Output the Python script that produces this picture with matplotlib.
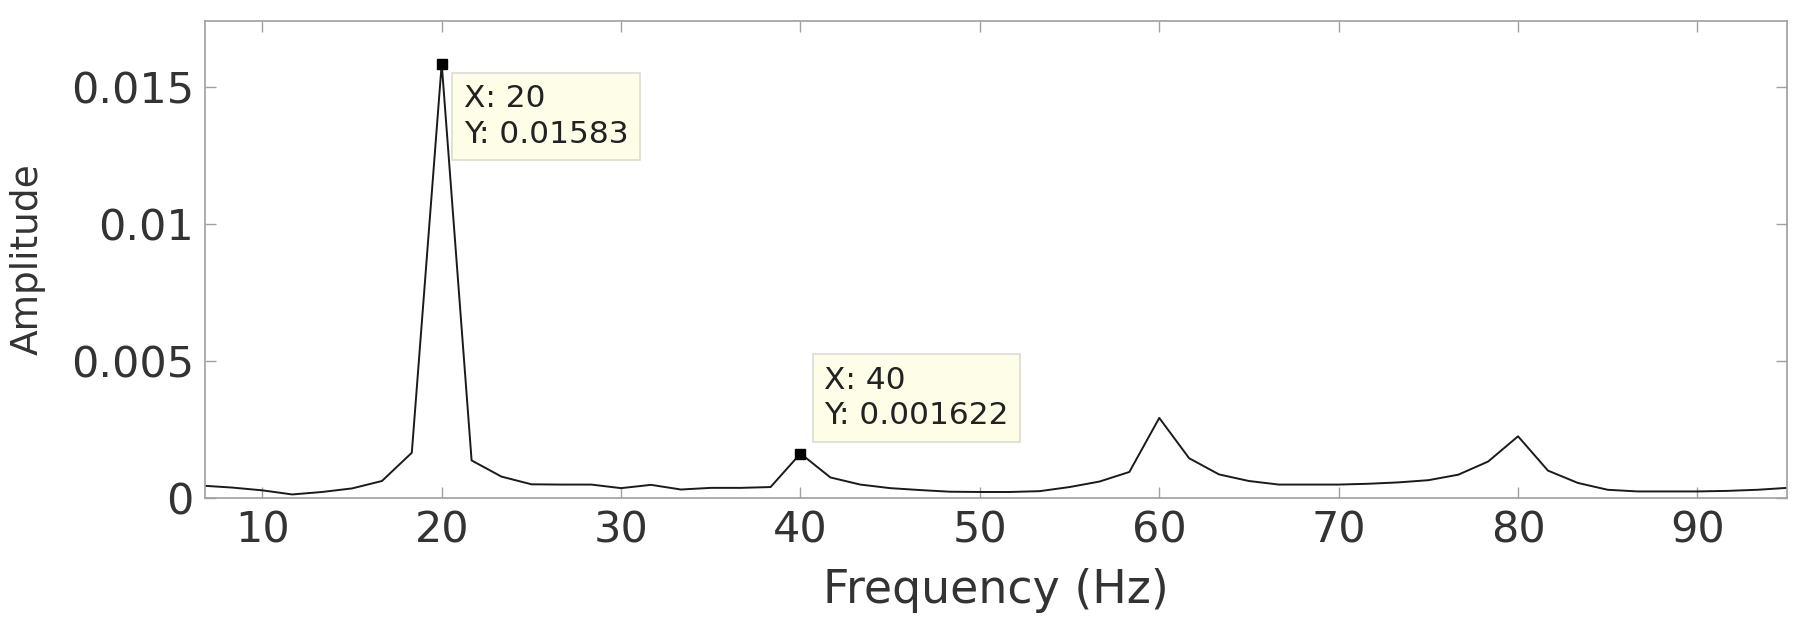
import numpy as np
import matplotlib
matplotlib.use('Agg')
from matplotlib import pyplot as plt

# single-sided amplitude spectrum, bins every 5/3 Hz
freq = np.arange(4, 58) * 5.0 / 3.0
amplitude = [
    0.00045, 0.00038, 0.00028, 0.00013, 0.00022, 0.00035, 0.00062, 0.00165,
    0.01583, 0.00137, 0.00078, 0.00050, 0.00049, 0.00049, 0.00036, 0.00048,
    0.00031, 0.00037, 0.00037, 0.00040, 0.001622, 0.00075, 0.00049, 0.00036,
    0.00029, 0.00023, 0.00022, 0.00022, 0.00025, 0.00040, 0.00060, 0.00095,
    0.00292, 0.00145, 0.00086, 0.00062, 0.00049, 0.00049, 0.00049, 0.00052,
    0.00057, 0.00065, 0.00085, 0.00133, 0.00225, 0.00100, 0.00055, 0.00030,
    0.00024, 0.00024, 0.00024, 0.00026, 0.00030, 0.00037,
]
tip_x = [20, 40]
tip_y = [0.01583, 0.001622]
tip_labels = ['X: 20\nY: 0.01583', 'X: 40\nY: 0.001622']
tip_offsets = [(22, -20), (24, 88)]  # pixels from the marker to the text corner

xticks = [10, 20, 30, 40, 50, 60, 70, 80, 90]
yticks = [0, 0.005, 0.01, 0.015]
ytick_labels = ['0', '0.005', '0.01', '0.015']

plt.rcParams['font.family'] = ['DejaVu Sans']
txt_color = '#333333'
axis_color = '#a0a0a0'

fig = plt.figure(figsize=(18.07, 6.30), dpi=100)
ax = fig.add_axes([0.1134, 0.2095, 0.8756, 0.7575])

ax.plot(freq, amplitude, color='#1a1a1a', lw=1.4)
ax.plot(tip_x, tip_y, 's', color='black', ms=7, ls='none')

for x, y, lab, off in zip(tip_x, tip_y, tip_labels, tip_offsets):
    ax.annotate(lab, xy=(x, y), xytext=off, textcoords='offset pixels',
                ha='left', va='top', fontsize=22.5, color='#222222', linespacing=1.3,
                bbox=dict(boxstyle='square,pad=0.36', fc='#fdfde8', ec='#dcdcd0', lw=1.2))

ax.set_xlim(6.8, 95)
ax.set_ylim(0, 0.0174)
ax.set_xticks(xticks)
ax.set_yticks(yticks)
ax.set_yticklabels(ytick_labels)
ax.tick_params(direction='in', top=True, right=True, length=8, width=1,
               color=axis_color, labelcolor=txt_color, labelsize=31, pad=8)
for s in ax.spines.values():
    s.set_color(axis_color)
    s.set_linewidth(1.2)

ax.set_xlabel('Frequency (Hz)', fontsize=33, color=txt_color, labelpad=12)
ax.set_ylabel('Amplitude', fontsize=27, color=txt_color, labelpad=18)

fig.savefig('out.png', dpi=100)
